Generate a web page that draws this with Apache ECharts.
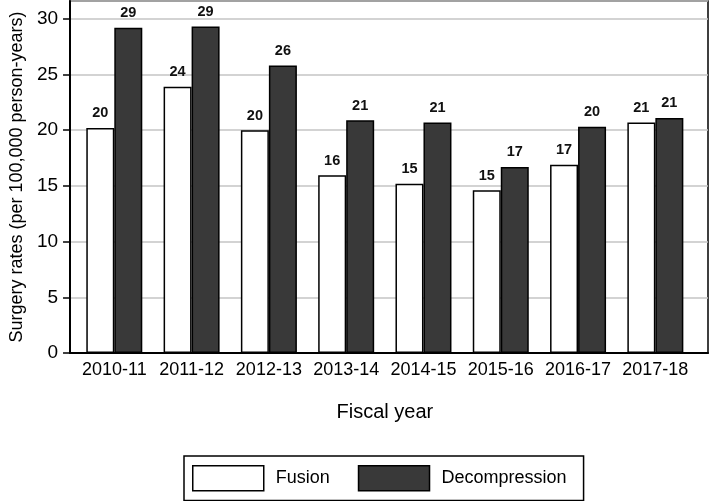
<!DOCTYPE html>
<html>
<head>
<meta charset="utf-8">
<script src="https://cdn.jsdelivr.net/npm/echarts@6/dist/echarts.min.js"></script>
<style>
html,body{margin:0;padding:0;background:#fff;}
#chart{width:709px;height:501px;}
</style>
</head>
<body>
<div id="chart"></div>
<script>
var categories = ['2010-11','2011-12','2012-13','2013-14','2014-15','2015-16','2016-17','2017-18'];
var fusion = [20.2, 23.9, 20.0, 15.95, 15.2, 14.6, 16.9, 20.7];
var decompression = [29.2, 29.3, 25.8, 20.9, 20.7, 16.7, 20.3, 21.1];
var yTicks = {min: 0, max: 31.6, interval: 5};

var FONT = 'Liberation Sans, Arial, Helvetica, sans-serif';
var chart = echarts.init(document.getElementById('chart'), null, {renderer: 'canvas'});
var labelFmt = function (p) { return Math.round(p.value); };
chart.setOption({
  animation: false,
  backgroundColor: '#fff',
  textStyle: {fontFamily: FONT, color: '#000'},
  grid: [
    {left: 61, right: 1, top: 1, bottom: 148, show: true, borderColor: '#000', borderWidth: 1.5, backgroundColor: '#fff'},
    {left: 75.65, right: 15, top: 1, bottom: 148}
  ],
  xAxis: [
    {gridIndex: 0, type: 'category', data: categories, axisLine: {show: true, lineStyle: {color: '#000', width: 2}},
     axisTick: {show: false}, axisLabel: {show: false}, splitLine: {show: false}},
    {gridIndex: 1, type: 'category', data: categories, axisLine: {show: false}, axisTick: {show: false},
     axisLabel: {interval: 0, fontSize: 18, color: '#000', margin: 8, fontFamily: FONT},
     name: 'Fiscal year', nameLocation: 'middle', nameGap: 49,
     nameTextStyle: {fontSize: 20, color: '#000', fontFamily: FONT}}
  ],
  yAxis: [
    {gridIndex: 0, type: 'value', min: yTicks.min, max: yTicks.max, interval: yTicks.interval,
     axisLine: {show: true, lineStyle: {color: '#000', width: 2}},
     axisTick: {show: true, length: 7, lineStyle: {color: '#000', width: 1.5}},
     axisLabel: {fontSize: 19, color: '#000', margin: 12, showMaxLabel: false, fontFamily: FONT},
     splitLine: {show: true, lineStyle: {color: '#c4c4c4', width: 1.5}},
     name: 'Surgery rates (per 100,000 person-years)', nameLocation: 'middle', nameGap: 42,
     nameTextStyle: {fontSize: 18, color: '#000', fontFamily: FONT}},
    {gridIndex: 1, type: 'value', min: yTicks.min, max: yTicks.max, interval: yTicks.interval, show: false,
     splitLine: {show: false}}
  ],
  legend: {
    left: 184, top: 456,
    orient: 'horizontal',
    borderColor: '#000', borderWidth: 1.5,
    padding: [9, 17, 9, 8],
    itemWidth: 71, itemHeight: 25, itemGap: 28,
    icon: 'rect',
    textStyle: {fontSize: 18, color: '#000', fontFamily: FONT, padding: [0, 0, 0, 7]},
    data: [
      {name: 'Fusion', itemStyle: {color: '#fff', borderColor: '#000', borderWidth: 1.5}},
      {name: 'Decompression', itemStyle: {color: '#393939', borderColor: '#000', borderWidth: 1.5}}
    ]
  },
  series: [
    {name: 'Fusion', type: 'bar', xAxisIndex: 1, yAxisIndex: 1, data: fusion, barWidth: 28, barGap: '0%',
     itemStyle: {color: '#fff', borderColor: '#000', borderWidth: 1.5},
     label: {show: true, position: 'top', distance: 7, fontSize: 14.5, fontWeight: 'bold', color: '#111', fontFamily: FONT, formatter: labelFmt}},
    {name: 'Decompression', type: 'bar', xAxisIndex: 1, yAxisIndex: 1, data: decompression, barWidth: 28, barGap: '0%',
     itemStyle: {color: '#393939', borderColor: '#000', borderWidth: 1.5},
     label: {show: true, position: 'top', distance: 7, fontSize: 14.5, fontWeight: 'bold', color: '#111', fontFamily: FONT, formatter: labelFmt}}
  ]
});
</script>
</body>
</html>
